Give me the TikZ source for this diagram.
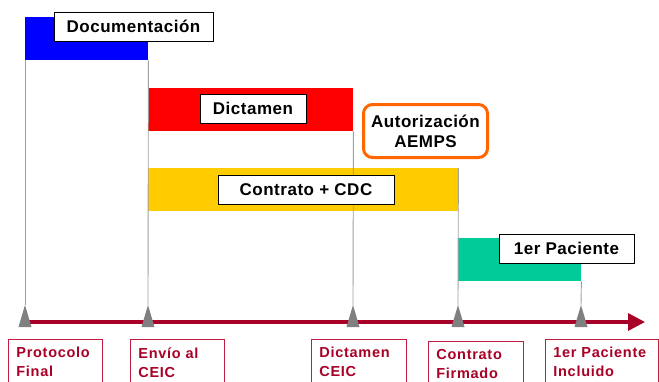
\documentclass[tikz,border=0pt]{standalone}
\usepackage{fontspec}
\setmainfont{Liberation Sans}
\newfontfamily\lblfont[LetterSpace=3]{Liberation Sans}
\newfontfamily\msfont[LetterSpace=5]{Liberation Sans}
\usetikzlibrary{arrows.meta,calc}
\definecolor{tlred}{RGB}{168,0,38}
\definecolor{msborder}{RGB}{190,30,65}
\definecolor{barblue}{RGB}{0,0,255}
\definecolor{barred}{RGB}{255,0,0}
\definecolor{baryellow}{RGB}{255,204,0}
\definecolor{bargreen}{RGB}{0,204,153}
\definecolor{aemps}{RGB}{255,102,0}
\definecolor{tri}{RGB}{128,128,128}
\definecolor{guidegray}{RGB}{160,160,160}
\begin{document}
\begin{tikzpicture}[x=1pt,y=-1pt,
  bar/.style={draw=none, inner sep=0pt, anchor=north west, minimum height=43pt},
  lbl/.style={draw=black, line width=0.8pt, fill=white, inner sep=0pt, minimum height=29pt,
    font=\lblfont\bfseries\fontsize{17}{20}\selectfont},
  ms/.style={draw=msborder, line width=0.8pt, fill=white, text=tlred, anchor=north west,
    align=left, inner xsep=8pt, inner ysep=8pt,
    font=\msfont\bfseries\fontsize{14.5}{19}\selectfont},
  guide/.style={draw=guidegray, line width=0.9pt},
  trimark/.style={fill=tri},
  tline/.style={draw=tlred, line width=3.5pt, -{Triangle[length=17pt,width=17pt]}}]
\useasboundingbox (0,0) rectangle (659,381);
\clip (0,0) rectangle (659,381);

% bars
\node[bar, fill=barblue, minimum width=123pt] (docbar) at (25,17) {};
\node[bar, fill=barred, minimum width=205pt] (dicbar) at (148,88) {};
\node[bar, fill=baryellow, minimum width=310pt] (conbar) at (148,168) {};
\node[bar, fill=bargreen, minimum width=123pt] (pacbar) at (458,238) {};

% milestones on time line
\coordinate (m1) at (25,322);
\coordinate (m2) at (148,322);
\coordinate (m3) at (353,322);
\coordinate (m4) at (458,322);
\coordinate (m5) at (581,322);
\coordinate (tip) at (645,322);
\foreach \i in {1,...,5}{\coordinate (a\i) at ($(m\i)+(0,-17)$);}

% guide lines
\draw[guide] (docbar.south west) -- (a1);
\draw[guide] (docbar.south east) -- (a2);
\draw[guide] (dicbar.south east) -- (a3);
\draw[guide] (conbar.north east) -- (a4);
\draw[guide] (pacbar.south east) -- (a5);

% labels
\node[lbl, minimum width=159pt] (doclbl) at (133.5,26.5) {Documentación};
\node[lbl, minimum width=106pt] (diclbl) at (253,108.5) {Dictamen};
\node[lbl, minimum width=176pt] (conlbl) at (306,189.5) {Contrato + CDC};
\node[lbl, minimum width=135pt] (paclbl) at (566.5,248.5) {1er Paciente};

\node[draw=aemps, line width=3pt, rounded corners=9pt, fill=white, align=center,
  minimum width=124pt, minimum height=53pt, inner sep=0pt,
  font=\lblfont\bfseries\fontsize{17}{20}\selectfont] (aemps) at (425.5,131) {Autorización\\AEMPS};

% time line
\draw[tline] (m1) -- (tip);
\foreach \i in {1,...,5}{
  \fill[trimark] (a\i) -- ($(m\i)+(6.5,5)$) -- ($(m\i)+(-6.5,5)$) -- cycle;
}

% milestone boxes
\node[ms, text width=78pt] (ms1) at (8,339) {Protocolo\\Final};
\node[ms, text width=78pt] (ms2) at (130,339) {Envío al\\CEIC};
\node[ms, text width=79pt] (ms3) at (311,339) {Dictamen\\CEIC};
\node[ms, text width=79pt] (ms4) at (428,341) {Contrato\\Firmado};
\node[ms, text width=97pt] (ms5) at (545,339) {1er Paciente\\Incluido};
\end{tikzpicture}
\end{document}
